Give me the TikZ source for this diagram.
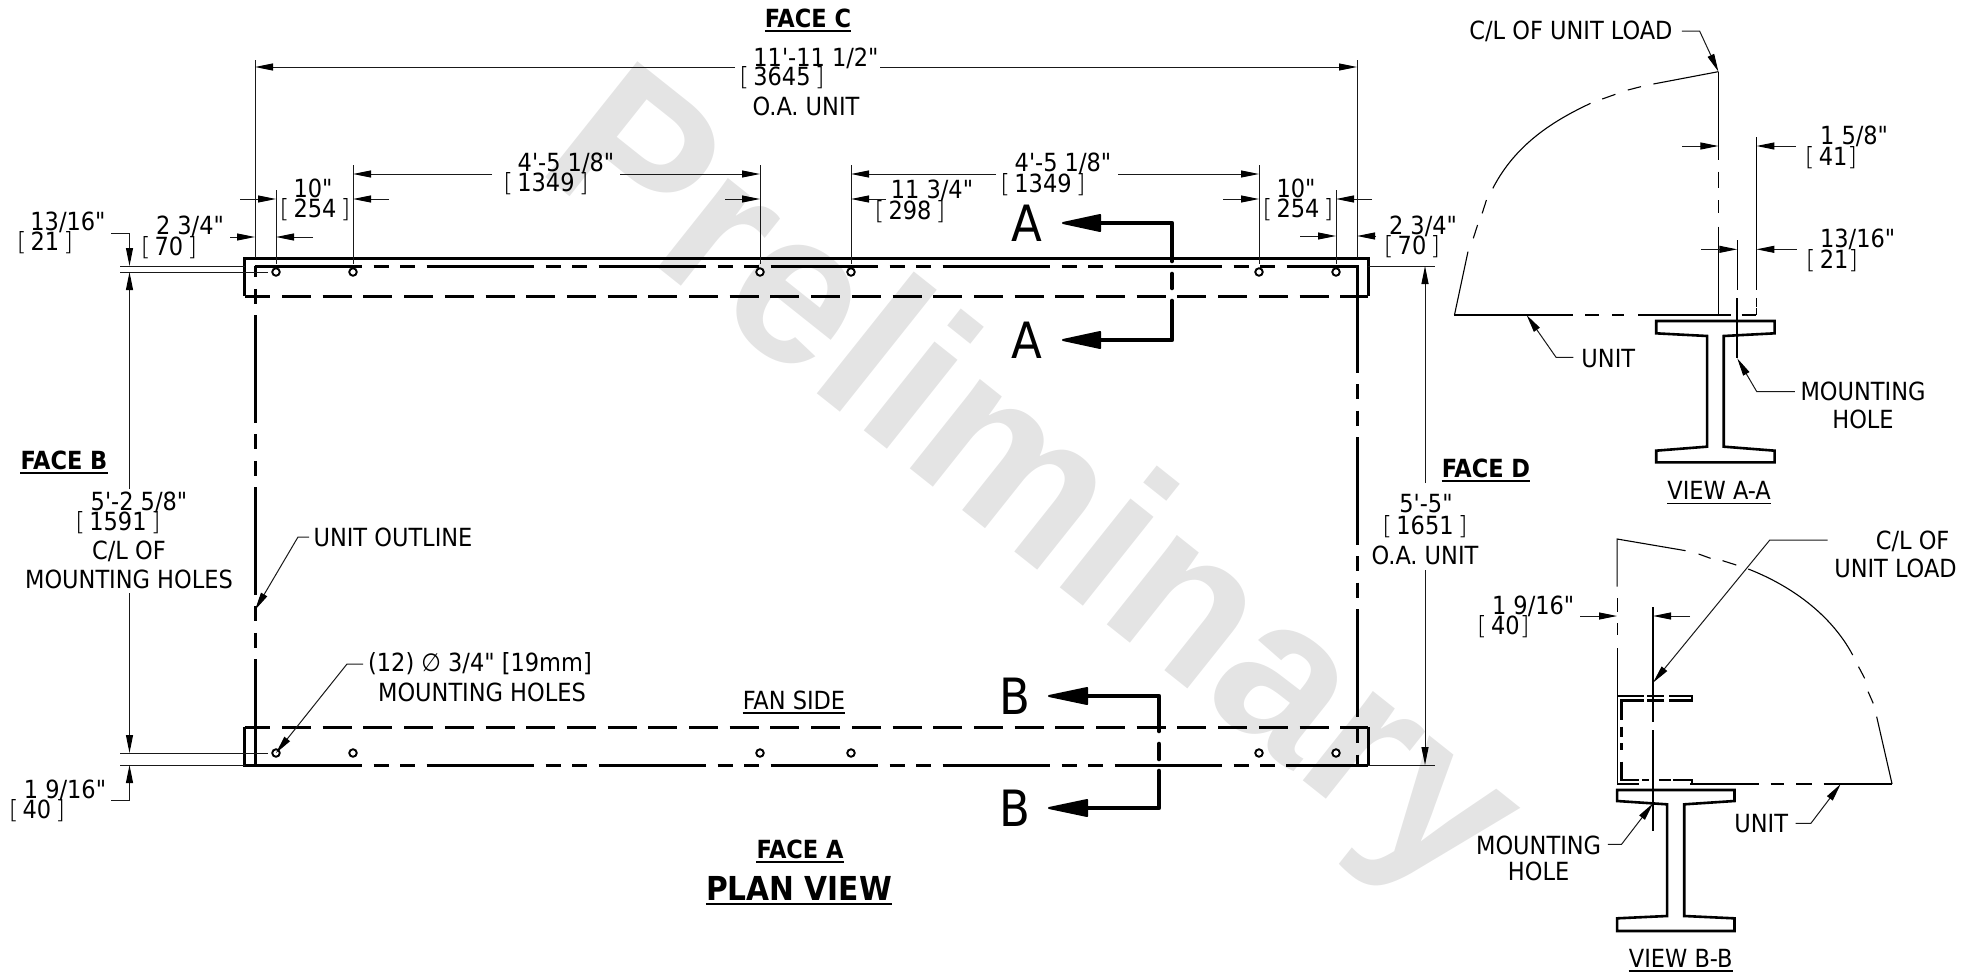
\documentclass[tikz,border=0pt]{standalone}
\usepackage{fontspec}
\usetikzlibrary{arrows.meta}
\setmainfont[Ligatures=TeXOff]{DejaVu Sans Condensed}
\newfontfamily\lt{DejaVu Sans ExtraLight}
\newcommand\BK[1]{{\lt[}\,#1\,{\lt]}}
\newcommand\BKn[1]{{\lt[}\,#1{\lt]}}
\definecolor{wm}{HTML}{E4E4E4}
\tikzset{
  t/.style={inner sep=0pt,align=center,font=\fontsize{25}{29}\selectfont},
  tb/.style={inner sep=0pt,font=\fontsize{25}{29}\selectfont\bfseries},
  big/.style={inner sep=0pt,font=\fontsize{50}{50}\selectfont},
  thin line/.style={line width=1pt,black!90},
  dim/.style={thin line,-{Triangle[length=18pt,width=7pt,black]}},
  hidden/.style={line width=3pt,black},
  sec/.style={line width=4.6pt,black,line cap=round,line join=round},
  head/.style={fill=black,draw=black,line width=2pt,line join=round},
  hole/.style={circle,draw=black,fill=white,line width=1.9pt,minimum size=7.5pt,inner sep=0pt},
  beam/.style={line width=2.6pt,black,line join=miter},
  pat/.style={dash pattern=on 107.5pt off 11.5pt on 15pt off 11.5pt on 15pt off 11.5pt},
  pat2/.style={dash pattern=on 29pt off 11.7pt,dash phase=3.2pt},
  zoomA/.style={shift={(1420,0)},x=0.35524pt,y=-0.33333pt},
  zoomB/.style={shift={(1440,510)},x=0.34247pt,y=-0.33333pt},
  ot/.style={line width=1.1pt,black},
  ok/.style={line width=2.4pt,black}
}
\newcommand\ul[4]{\node[#1] (#2) at (#3) {#4};
  \draw[line width=1.7pt] ([yshift=-3.5pt]#2.south west) -- ([yshift=-3.5pt]#2.south east);}
\begin{document}
\begin{tikzpicture}[x=1pt,y=-1pt]
\useasboundingbox (0,0) rectangle (1977,972);
% watermark
\node[inner sep=0pt,rotate=-38.5,text=wm,font=\fontspec{Liberation Sans Bold}\fontsize{215}{215}\selectfont] (wmk) at (1027,490) {Preliminary};
% plan view
\draw[hidden] (244.5,296) -- (244.5,258) -- (1368,258) -- (1368,296);
\draw[hidden,pat2] (244.5,296) -- (1368,296);
\draw[hidden] (244.5,727) -- (244.5,765) -- (256,765);
\draw[hidden] (1368,727) -- (1368,765);
\draw[hidden,pat2] (244.5,727) -- (1368,727);
\draw[hidden,pat] (254.5,266) -- (1357,266);
\draw[hidden,pat] (254.5,765) -- (1368,765);
\draw[hidden,pat,dash phase=122.6pt] (255,266) -- (255,765);
\draw[hidden,pat] (1357,265) -- (1357,765);
\draw[hidden] (1286,765) -- (1368,765);
\foreach \x/\n in {276/a,353/b,760/c,851/d,1259/e,1336/f}{
  \node[hole] (ht\n) at (\x,272) {};
  \node[hole] (hb\n) at (\x,753) {};
}
% extension lines
\draw[thin line] (255,60) -- (255,258);
\draw[thin line] (1357,60) -- (1357,258);
\draw[thin line] (276,190) -- (276,264);
\draw[thin line] (353,165) -- (353,264);
\draw[thin line] (760,165) -- (760,264);
\draw[thin line] (851,165) -- (851,264);
\draw[thin line] (1259,165) -- (1259,264);
\draw[thin line] (1336,190) -- (1336,264);
\draw[thin line] (120,266) -- (245,266);
\draw[thin line] (120,272) -- (268,272);
\draw[thin line] (120,753) -- (268,753);
\draw[thin line] (120,765) -- (245,765);
\draw[thin line] (1368,266) -- (1435,266);
\draw[thin line] (1368,765) -- (1435,765);
% horizontal dims
\draw[dim] (735,67) -- (255,67);
\draw[dim] (880,67) -- (1357,67);
\draw[dim] (492,174) -- (353,174);
\draw[dim] (620,174) -- (760,174);
\draw[dim] (996,174) -- (851,174);
\draw[dim] (1118,174) -- (1259,174);
\draw[dim] (240,199) -- (276,199);
\draw[dim] (389,199) -- (353,199);
\draw[dim] (725,199) -- (760,199);
\draw[dim] (886,199) -- (851,199);
\draw[dim] (1223,199) -- (1259,199);
\draw[dim] (1372,199) -- (1336,199);
\draw[dim] (230,237) -- (255,237);
\draw[dim] (313,237) -- (276,237);
\draw[dim] (1300,236) -- (1336,236);
\draw[dim] (1376,236) -- (1357,236);
% vertical dims
\draw[dim] (111,233) -- (129.5,233) -- (129.5,266);
\draw[dim] (129.5,489) -- (129.5,272);
\draw[dim] (129.5,593) -- (129.5,753);
\draw[dim] (111,800) -- (129.5,800) -- (129.5,765);
\draw[dim] (1425,483) -- (1425,266);
\draw[dim] (1425,570) -- (1425,765);
% leaders
\draw[dim] (309,537) -- (298,537) -- (255,610);
\draw[dim] (363,664) -- (347,664) -- (276,753);
% section A
\draw[sec] (1098,223) -- (1172,223) -- (1172,261);
\draw[sec] (1172,274) -- (1172,288);
\draw[sec] (1172,301) -- (1172,340) -- (1098,340);
\draw[head] (1063,223) -- (1100,215) -- (1100,231) -- cycle;
\draw[head] (1063,340) -- (1100,332) -- (1100,348) -- cycle;
\node[big] (la1) at (1027,223) {A};
\node[big] (la2) at (1027,340) {A};
% section B
\draw[sec] (1085,696) -- (1159,696) -- (1159,731);
\draw[sec] (1159,744) -- (1159,759);
\draw[sec] (1159,771) -- (1159,808) -- (1085,808);
\draw[head] (1049,696) -- (1087,688) -- (1087,704) -- cycle;
\draw[head] (1049,808) -- (1087,800) -- (1087,816) -- cycle;
\node[big] (lb1) at (1015,696) {B};
\node[big] (lb2) at (1015,808) {B};
% plan texts
\ul{tb}{fc}{808,18}{FACE C}
\ul{tb}{fb}{64,460}{FACE B}
\ul{tb}{fd}{1486,468}{FACE D}
\ul{tb}{fa}{800,849}{FACE A}
\node[inner sep=0pt,font=\fontsize{33}{38}\selectfont\bfseries] (pv) at (799,888) {PLAN VIEW};
\draw[line width=2.4pt] ([yshift=-4pt]pv.south west) -- ([yshift=-4pt]pv.south east);
\ul{t}{fs}{794,700}{FAN SIDE}
\node[t] (d1a) at (816,58) {11'-11 1/2"};
\node[t] (d1b) at (782,78) {\BK{3645}};
\node[t] (d1c) at (806,106) {O.A. UNIT};
\node[t] (d2a) at (566,163) {4'-5 1/8"};
\node[t] (d2b) at (546,184) {\BK{1349}};
\node[t] (d3a) at (1063,163) {4'-5 1/8"};
\node[t] (d3b) at (1043,185) {\BK{1349}};
\node[t] (d4a) at (313,188) {10"};
\node[t] (d4b) at (315,210) {\BK{254}};
\node[t] (d5a) at (1296,188) {10"};
\node[t] (d5b) at (1298,210) {\BK{254}};
\node[t] (d6a) at (932,190) {11 3/4"};
\node[t] (d6b) at (910,212) {\BK{298}};
\node[t] (d7a) at (68,222) {13/16"};
\node[t] (d7b) at (45,243) {\BK{21}};
\node[t] (d8a) at (190,226) {2 3/4"};
\node[t] (d8b) at (169,248) {\BK{70}};
\node[t] (d9a) at (1423,226) {2 3/4"};
\node[t] (d9b) at (1412,247) {\BK{70}};
\node[t] (d10a) at (139,502) {5'-2 5/8"};
\node[t] (d10b) at (118,523) {\BK{1591}};
\node[t] (d10c) at (129,551) {C/L OF};
\node[t] (d10d) at (129,579) {MOUNTING HOLES};
\node[t] (d11a) at (1426,504) {5'-5"};
\node[t] (d11b) at (1425,527) {\BK{1651}};
\node[t] (d11c) at (1425,555) {O.A. UNIT};
\node[t] (d12a) at (65,790) {1 9/16"};
\node[t] (d12b) at (37,811) {\BK{40}};
\node[t] (uo) at (393,537) {UNIT OUTLINE};
\node[t] (mh1) at (480,664) {(12) ∅ 3/4" [19mm]};
\node[t] (mh2) at (482,692) {MOUNTING HOLES};
% view A-A
\begin{scope}[zoomA]
\draw[ot] (97,945) -- (135,755);
\draw[ot] (150,715) -- (162,675);
\draw[ot] (175,640) -- (187,600);
\draw[ot] (205,565) .. controls (270,430) and (380,360) .. (480,310);
\draw[ot] (513,297) -- (550,283);
\draw[ot] (585,270) -- (622,260);
\draw[ot] (657,252) -- (840,215);
\draw[ot] (840,215) -- (840,480);
\draw[ot] (840,515) -- (840,565);
\draw[ot] (840,600) -- (840,640);
\draw[ot] (840,680) -- (840,945);
\draw[ot] (97,945) -- (430,945);
\draw[ot] (465,945) -- (505,945);
\draw[ot] (540,945) -- (575,945);
\draw[ot] (615,945) -- (875,945);
\draw[ot] (905,945) -- (947,945);
\draw[ot] (893,720) -- (893,870);
\draw[ot] (947,412) -- (947,870);
\draw[ot] (947,895) -- (947,920);
\draw[ot] (947,925) -- (947,945);
\draw[beam] (665,963) -- (998,963) -- (998,1000) -- (855,1008) -- (855,1340) -- (998,1352) -- (998,1387) -- (665,1387) -- (665,1352) -- (808,1340) -- (808,1008) -- (665,1000) -- cycle;
\draw[ok] (893,895) -- (893,1075);
\draw[dim] (738,438) -- (840,438);
\draw[dim] (1057,438) -- (947,438);
\draw[dim] (792,748) -- (893,748);
\draw[dim] (1060,748) -- (947,748);
\draw[dim] (737,93) -- (787,93) -- (840,215);
\draw[dim] (432,1072) -- (383,1072) -- (300,945);
\draw[dim] (1055,1175) -- (948,1175) -- (893,1075);
\node[t] (a1) at (1222,410) {1 5/8"};
\node[t] (a2) at (1157,473) {\BKn{41}};
\node[t] (a3) at (1232,717) {13/16"};
\node[t] (a4) at (1160,782) {\BKn{21}};
\node[t] (a5) at (425,95) {C/L OF UNIT LOAD};
\node[t] (a6) at (530,1075) {UNIT};
\node[t] (a7) at (1247,1175) {MOUNTING};
\node[t] (a8) at (1247,1257) {HOLE};
\ul{t}{va}{842,1472}{VIEW A-A}
\end{scope}
% view B-B
\begin{scope}[zoomB]
\draw[ot] (517,230) -- (517,87) -- (717,122);
\draw[ot] (755,132) -- (790,145);
\draw[ot] (825,152) -- (865,165);
\draw[ot] (900,177) .. controls (1020,225) and (1140,310) .. (1205,435);
\draw[ot] (1222,470) -- (1240,505);
\draw[ot] (1250,545) -- (1265,580);
\draw[ot] (1275,620) -- (1320,822);
\draw[ot] (517,265) -- (517,305);
\draw[ot] (517,340) -- (517,375);
\draw[ot] (517,415) -- (517,822) -- (580,822);
\draw[ot] (622,292) -- (622,635);
\draw[ok] (730,822) -- (930,822);
\draw[ok] (965,822) -- (1005,822);
\draw[ok] (1040,822) -- (1085,822);
\draw[ok] (1120,822) -- (1320,822);
\draw[ok] (517,558) -- (595,558);
\draw[ok] (605,558) -- (655,558);
\draw[ok] (670,558) -- (735,558) -- (735,572) -- (670,572);
\draw[ok] (655,572) -- (605,572);
\draw[ok] (595,572) -- (530,572) -- (530,630);
\draw[ok] (530,650) -- (530,680);
\draw[ok] (530,700) -- (530,720);
\draw[ok] (530,755) -- (530,810) -- (580,810);
\draw[ok] (590,810) -- (610,810);
\draw[ok] (640,810) -- (675,810);
\draw[ok] (680,810) -- (735,810) -- (735,822);
\draw[ok] (622,660) -- (622,962);
\draw[beam] (517,840) -- (860,840) -- (860,873) -- (713,883) -- (713,1218) -- (860,1225) -- (860,1263) -- (517,1263) -- (517,1225) -- (663,1218) -- (663,883) -- (517,873) -- cycle;
\draw[dim] (410,318) -- (517,318);
\draw[dim] (730,318) -- (622,318);
\draw[dim] (1132,90) -- (963,90) -- (622,518);
\draw[dim] (490,1003) -- (530,1003) -- (622,880);
\draw[dim] (1038,940) -- (1083,940) -- (1170,822);
\node[t] (b1) at (272,290) {1 9/16"};
\node[t] (b2) at (185,350) {\BKn{40}};
\node[t] (b3) at (1380,95) {C/L OF};
\node[t] (b4) at (1330,175) {UNIT LOAD};
\node[t] (b5) at (288,1005) {MOUNTING};
\node[t] (b6) at (288,1085) {HOLE};
\node[t] (b7) at (938,942) {UNIT};
\ul{t}{vb}{703,1345}{VIEW B-B}
\end{scope}
\end{tikzpicture}
\end{document}
